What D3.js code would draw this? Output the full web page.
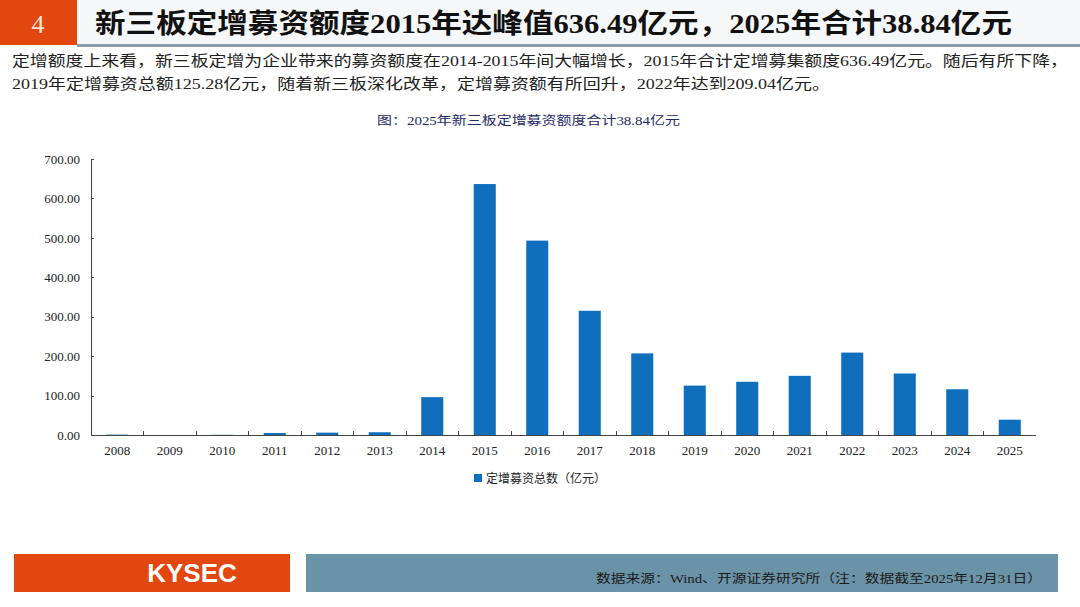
<!DOCTYPE html>
<html lang="zh">
<head>
<meta charset="UTF-8">
<title>新三板定增募资额度</title>
<script src="https://d3js.org/d3.v7.min.js"></script>
<style>
    body { margin: 0; background: #fff; }
    svg { display: block; }
    .serif { font-family: "Liberation Serif", "Noto Sans CJK SC", serif; }
    .axis path, .axis line { stroke: #444; shape-rendering: crispEdges; }
    .axis text { font-family: "Liberation Serif", serif; font-size: 13px; fill: #222; }
</style>
</head>
<body>
<svg id="page" width="1080" height="607"></svg>
<script>
// data (亿元)
const years = ["2008", "2009", "2010", "2011", "2012", "2013", "2014", "2015", "2016",
    "2017", "2018", "2019", "2020", "2021", "2022", "2023", "2024", "2025"];
const amounts = [1.0, 0, 0.5, 5, 6, 7, 96, 636.49, 493, 315, 207, 125.28, 135, 150,
    209.04, 156, 116, 38.84];
const yTicks = [0, 100, 200, 300, 400, 500, 600, 700];
const seriesName = "定增募资总数（亿元）";

const svg = d3.select("#page");

// header
svg.append("rect").attr("x", 77).attr("y", 0).attr("width", 1003).attr("height", 44).attr("fill", "#f6f7f8");
svg.append("rect").attr("x", 0).attr("y", 0).attr("width", 77).attr("height", 45).attr("fill", "#e2470f");
svg.append("rect").attr("x", 77).attr("y", 44).attr("width", 1003).attr("height", 3).attr("fill", "#8d9ca6");
svg.append("text").attr("x", 38).attr("y", 33).attr("text-anchor", "middle")
    .attr("class", "serif").attr("font-size", 26).attr("fill", "#fbe3d2").text("4");
svg.append("text").attr("x", 95).attr("y", 33).attr("class", "serif")
    .attr("font-size", 27).attr("font-weight", "bold").attr("fill", "#111")
    .attr("textLength", 917).attr("lengthAdjust", "spacingAndGlyphs")
    .text("新三板定增募资额度2015年达峰值636.49亿元，2025年合计38.84亿元");

// intro paragraph
const para = [
    { t: "定增额度上来看，新三板定增为企业带来的募资额度在2014-2015年间大幅增长，2015年合计定增募集额度636.49亿元。随后有所下降，", w: 1056, y: 66 },
    { t: "2019年定增募资总额125.28亿元，随着新三板深化改革，定增募资额有所回升，2022年达到209.04亿元。", w: 818, y: 89 }
];
svg.selectAll("text.para").data(para).enter().append("text")
    .attr("class", "para serif")
    .attr("x", 12).attr("y", d => d.y)
    .attr("font-size", 15).attr("fill", "#222")
    .attr("textLength", d => d.w).attr("lengthAdjust", "spacingAndGlyphs")
    .text(d => d.t);

// chart title
svg.append("text").attr("x", 377).attr("y", 125).attr("class", "serif")
    .attr("font-size", 12).attr("fill", "#1f2a66")
    .attr("textLength", 303).attr("lengthAdjust", "spacingAndGlyphs")
    .text("图：2025年新三板定增募资额度合计38.84亿元");

// chart
const margin = { left: 91, right: 44, top: 159, bottom: 172 };
const chartW = 1080 - margin.left - margin.right;
const chartH = 607 - margin.top - margin.bottom;
const g = svg.append("g").attr("transform", `translate(${margin.left},${margin.top})`);

const x = d3.scaleBand().domain(years).range([0, chartW]).paddingInner(0.58).paddingOuter(0.29);
const y = d3.scaleLinear().domain([0, 700]).range([chartH, 0]);

g.selectAll("rect.bar").data(years).enter().append("rect")
    .attr("class", "bar")
    .attr("x", d => x(d))
    .attr("y", (d, i) => y(amounts[i]))
    .attr("width", x.bandwidth())
    .attr("height", (d, i) => chartH - y(amounts[i]))
    .attr("fill", "#0f6fbd");

// y axis
const yAxis = g.append("g").attr("class", "axis")
    .call(d3.axisLeft(y).tickValues(yTicks).tickFormat(d3.format(".2f")).tickSize(-3).tickPadding(11));
yAxis.select(".domain").attr("d", `M0,0V${chartH}`);

// x axis: ticks at band boundaries, pointing up
const step = x.step();
const xAxis = g.append("g").attr("class", "axis").attr("transform", `translate(0,${chartH})`)
    .call(d3.axisBottom(x).tickSize(0).tickPadding(11));
xAxis.select(".domain").attr("d", `M0,0H${chartW}`);
xAxis.selectAll("line.sep").data(years.slice(1)).enter().append("line")
    .attr("class", "sep")
    .attr("x1", d => x(d) - step * 0.29).attr("x2", d => x(d) - step * 0.29)
    .attr("y1", 0).attr("y2", -4);

// legend
const lg = svg.append("g").attr("transform", "translate(474,474)");
lg.append("rect").attr("width", 8).attr("height", 8).attr("fill", "#0f6fbd");
lg.append("text").attr("x", 12).attr("y", 9).attr("class", "serif")
    .attr("font-size", 12).attr("fill", "#222").text(seriesName);

// footer
svg.append("rect").attr("x", 14).attr("y", 554).attr("width", 276).attr("height", 38).attr("fill", "#e2470f");
svg.append("rect").attr("x", 306).attr("y", 554).attr("width", 752).attr("height", 38).attr("fill", "#6b93a7");
svg.append("text").attr("x", 192).attr("y", 582).attr("text-anchor", "middle")
    .attr("font-family", "Liberation Sans, Arial, sans-serif").attr("font-weight", "bold")
    .attr("font-size", 26).attr("fill", "#fff").text("KYSEC");
svg.append("text").attr("x", 1042).attr("y", 583).attr("text-anchor", "end").attr("class", "serif")
    .attr("font-size", 12).attr("fill", "#1a1a1a")
    .attr("textLength", 446).attr("lengthAdjust", "spacingAndGlyphs")
    .text("数据来源：Wind、开源证券研究所（注：数据截至2025年12月31日）");
</script>
</body>
</html>
